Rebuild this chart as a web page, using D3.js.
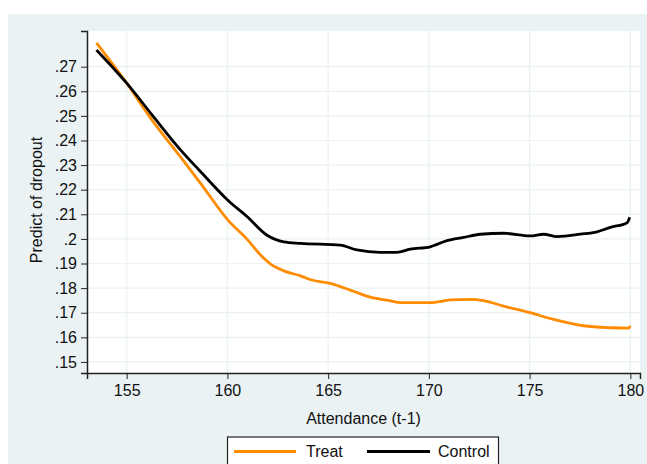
<!DOCTYPE html>
<html>
<head>
<meta charset="utf-8">
<script src="https://cdn.jsdelivr.net/npm/d3@7"></script>
<style>
  body { margin: 0; background: #fff; }
  text { font-family: "Liberation Sans", Arial, sans-serif; fill: #111; }
</style>
</head>
<body>
<div id="chart"></div>
<script>
// svg container
var width = 647;
var height = 464;

// data
var treatX = [153.5, 155.0, 156.25, 157.66, 158.65, 160.06, 160.97, 161.64, 162.13, 162.8, 163.63, 164.1, 165.1, 166.1, 167.1, 168.1, 168.6, 170.07, 171.06, 172.06, 172.71, 173.71, 175.03, 176.19, 177.68, 179.01, 179.92, 180.0];
var treatY = [.2797, .2633, .2484, .2334, .2228, .2073, .1999, .1935, .1899, .1870, .1850, .1835, .1819, .1792, .1763, .1748, .1741, .1741, .1752, .1754, .1749, .1727, .1700, .1673, .1647, .1639, .1637, .1647];

var controlX = [153.5, 155.0, 156.25, 157.66, 158.65, 160.06, 160.97, 161.97, 162.8, 163.63, 165.6, 166.43, 167.58, 168.41, 169.07, 170.07, 170.9, 171.72, 172.55, 173.71, 175.03, 175.7, 176.36, 177.52, 178.35, 179.01, 179.84, 179.97];
var controlY = [.2768, .2633, .2505, .2363, .2275, .2154, .2091, .2015, .1988, .1982, .1975, .1955, .1945, .1945, .1958, .1968, .1993, .2006, .2019, .2023, .2012, .2019, .2009, .2019, .2029, .2047, .2066, .2088];

var xTicks = [155, 160, 165, 170, 175, 180];
var yTicks = [.15, .16, .17, .18, .19, .2, .21, .22, .23, .24, .25, .26, .27];
var seriesNames = ['Treat', 'Control'];
var seriesColors = ['#ff8c00', '#000000'];

// plot area
var plot = { left: 87, right: 640, top: 31, bottom: 373 };
var fontSize = '16px';

var svg = d3.select('#chart').append('svg')
    .attr('width', width)
    .attr('height', height);

// stata style outer panel
svg.append('rect')
    .attr('x', 8)
    .attr('y', 14)
    .attr('width', width - 8)
    .attr('height', height - 14)
    .attr('fill', '#eaf2f3');

svg.append('rect')
    .attr('x', plot.left)
    .attr('y', plot.top)
    .attr('width', plot.right - plot.left)
    .attr('height', plot.bottom - plot.top)
    .attr('fill', '#ffffff');

var xScale = d3.scaleLinear()
    .domain([153.03, 180.48])
    .range([plot.left, plot.right]);

var yScale = d3.scaleLinear()
    .domain([.1455, .2845])
    .range([plot.bottom, plot.top]);

// grid lines
svg.append('g').selectAll('line')
    .data(yTicks)
    .enter()
    .append('line')
    .attr('x1', plot.left)
    .attr('x2', plot.right)
    .attr('y1', d => yScale(d))
    .attr('y2', d => yScale(d))
    .attr('stroke', '#eaf2f3')
    .attr('stroke-width', 1.2);

svg.append('g').selectAll('line')
    .data(xTicks)
    .enter()
    .append('line')
    .attr('x1', d => xScale(d))
    .attr('x2', d => xScale(d))
    .attr('y1', plot.top)
    .attr('y2', plot.bottom)
    .attr('stroke', '#eaf2f3')
    .attr('stroke-width', 1.2);

// axes
var fmt = function(d) {
    return d3.format('.2f')(d).replace(/^0/, '').replace(/0$/, '');
};

var leftAxis = d3.axisLeft(yScale)
    .tickValues(yTicks)
    .tickFormat(fmt)
    .tickSize(6)
    .tickPadding(4);

var bottomAxis = d3.axisBottom(xScale)
    .tickValues(xTicks)
    .tickFormat(d3.format('d'))
    .tickSize(6)
    .tickPadding(6);

var yAxisG = svg.append('g')
    .attr('transform', `translate(${plot.left}, 0)`)
    .call(leftAxis);

var xAxisG = svg.append('g')
    .attr('transform', `translate(0, ${plot.bottom})`)
    .call(bottomAxis);

[yAxisG, xAxisG].forEach(function(g) {
    g.select('.domain').attr('stroke', '#222').attr('stroke-width', 1.5);
    g.selectAll('.tick line').attr('stroke', '#222').attr('stroke-width', 1);
    g.selectAll('.tick text')
        .style('font-family', '"Liberation Sans", Arial, sans-serif')
        .style('font-size', fontSize)
        .attr('fill', '#111');
});

// axis titles
svg.append('text')
    .attr('x', (plot.left + plot.right) / 2)
    .attr('y', 424)
    .attr('text-anchor', 'middle')
    .style('font-size', fontSize)
    .text('Attendance (t-1)');

svg.append('text')
    .attr('transform', 'rotate(-90)')
    .attr('x', -200)
    .attr('y', 42)
    .attr('text-anchor', 'middle')
    .style('font-size', fontSize)
    .text('Predict of dropout');

// lines
var line = d3.line()
    .x(d => xScale(d[0]))
    .y(d => yScale(d[1]))
    .curve(d3.curveMonotoneX);

var treatData = treatX.map((x, i) => [x, treatY[i]]);
var controlData = controlX.map((x, i) => [x, controlY[i]]);

svg.append('path')
    .datum(treatData)
    .attr('d', line)
    .attr('fill', 'none')
    .attr('stroke', seriesColors[0])
    .attr('stroke-width', 2.8);

svg.append('path')
    .datum(controlData)
    .attr('d', line)
    .attr('fill', 'none')
    .attr('stroke', seriesColors[1])
    .attr('stroke-width', 2.8);

// legend
var legend = svg.append('g');

legend.append('rect')
    .attr('x', 227.5)
    .attr('y', 437)
    .attr('width', 271)
    .attr('height', 40)
    .attr('fill', '#ffffff')
    .attr('stroke', '#222')
    .attr('stroke-width', 1.2);

var legendItems = [
    { x1: 234, x2: 296, tx: 306 },
    { x1: 367, x2: 430, tx: 438 }
];

legendItems.forEach(function(item, i) {
    legend.append('line')
        .attr('x1', item.x1)
        .attr('x2', item.x2)
        .attr('y1', 451.5)
        .attr('y2', 451.5)
        .attr('stroke', seriesColors[i])
        .attr('stroke-width', 2.8);
    legend.append('text')
        .attr('x', item.tx)
        .attr('y', 457)
        .style('font-size', fontSize)
        .text(seriesNames[i]);
});
</script>
</body>
</html>
